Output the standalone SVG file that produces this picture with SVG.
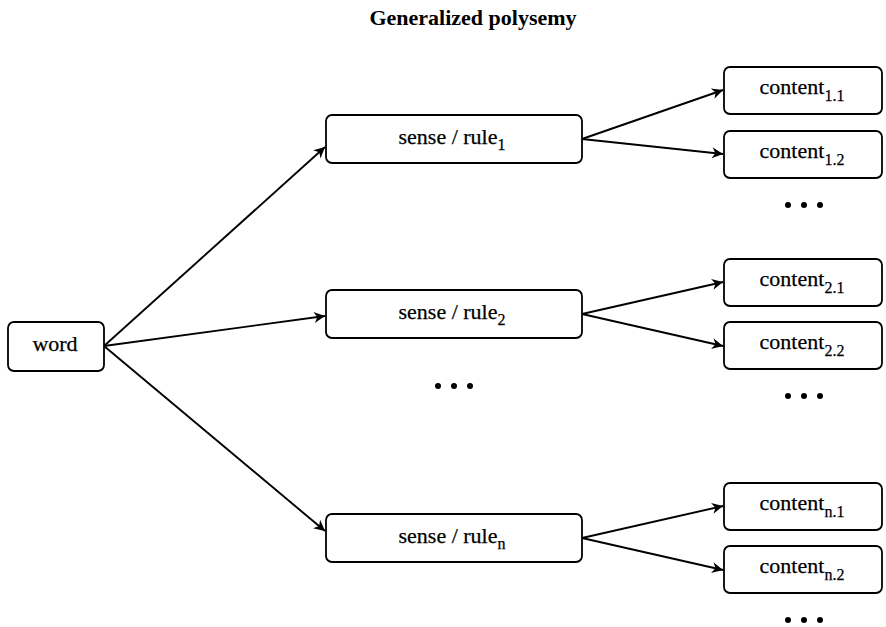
<svg xmlns="http://www.w3.org/2000/svg" width="886" height="627" viewBox="0 0 886 627">
  <style>
    .box { fill: #fff; stroke: #000; stroke-width: 1.8; }
    .lbl { font-family: "Liberation Serif", "Times New Roman", serif; font-size: 22px; fill: #000; stroke: #000; stroke-width: 0.25; text-anchor: middle; }
    .sub { font-size: 16px; }
    .title { font-family: "Liberation Serif", "Times New Roman", serif; font-size: 22px; font-weight: bold; fill: #000; text-anchor: middle; }
    .edge { stroke: #000; stroke-width: 1.9; fill: none; marker-end: url(#arrow); }
    .dot { fill: #000; }
  </style>
  <defs>
    <marker id="arrow" viewBox="0 0 10 10" refX="10" refY="5" markerWidth="13" markerHeight="11" markerUnits="userSpaceOnUse" orient="auto">
      <path d="M0,0 L10,5 L0,10 L3,5 Z" fill="#000"/>
    </marker>
  </defs>

  <rect width="886" height="627" fill="#fff"/>

  <text class="title" x="473" y="25">Generalized polysemy</text>

  <g id="connectors">
    <line class="edge" x1="104" y1="346" x2="325" y2="147"/>
    <line class="edge" x1="104" y1="346" x2="325" y2="316"/>
    <line class="edge" x1="104" y1="346" x2="325" y2="531"/>
    <line class="edge" x1="582" y1="139" x2="723" y2="90"/>
    <line class="edge" x1="582" y1="139" x2="723" y2="154"/>
    <line class="edge" x1="582" y1="314" x2="723" y2="282"/>
    <line class="edge" x1="582" y1="314" x2="723" y2="346"/>
    <line class="edge" x1="582" y1="538" x2="723" y2="506"/>
    <line class="edge" x1="582" y1="538" x2="723" y2="570"/>
  </g>

  <g id="word">
    <rect class="box" x="8" y="322" width="96" height="49" rx="6"/>
    <text class="lbl" x="55" y="351">word</text>
  </g>

  <g id="sense1">
    <rect class="box" x="326" y="115" width="256" height="48" rx="6"/>
    <text class="lbl" x="452" y="144">sense / rule<tspan class="sub" dy="6">1</tspan></text>
  </g>
  <g id="sense2">
    <rect class="box" x="326" y="290" width="256" height="48" rx="6"/>
    <text class="lbl" x="452" y="319">sense / rule<tspan class="sub" dy="6">2</tspan></text>
  </g>
  <g id="sense-n">
    <rect class="box" x="326" y="514" width="256" height="48" rx="6"/>
    <text class="lbl" x="452" y="543">sense / rule<tspan class="sub" dy="6">n</tspan></text>
  </g>

  <g id="content1-1">
    <rect class="box" x="724" y="67" width="158" height="47" rx="6"/>
    <text class="lbl" x="802" y="94">content<tspan class="sub" dy="7">1.1</tspan></text>
  </g>
  <g id="content1-2">
    <rect class="box" x="724" y="131" width="158" height="47" rx="6"/>
    <text class="lbl" x="802" y="158">content<tspan class="sub" dy="7">1.2</tspan></text>
  </g>
  <g id="content2-1">
    <rect class="box" x="724" y="259" width="158" height="47" rx="6"/>
    <text class="lbl" x="802" y="286">content<tspan class="sub" dy="7">2.1</tspan></text>
  </g>
  <g id="content2-2">
    <rect class="box" x="724" y="322" width="158" height="47" rx="6"/>
    <text class="lbl" x="802" y="349">content<tspan class="sub" dy="7">2.2</tspan></text>
  </g>
  <g id="content-n-1">
    <rect class="box" x="724" y="483" width="158" height="47" rx="6"/>
    <text class="lbl" x="802" y="510">content<tspan class="sub" dy="7">n.1</tspan></text>
  </g>
  <g id="content-n-2">
    <rect class="box" x="724" y="546" width="158" height="47" rx="6"/>
    <text class="lbl" x="802" y="573">content<tspan class="sub" dy="7">n.2</tspan></text>
  </g>

  <!-- ellipses marking further items -->
  <g id="ellipses">
    <circle class="dot" cx="788" cy="205" r="3"/>
    <circle class="dot" cx="804" cy="205" r="3"/>
    <circle class="dot" cx="820" cy="205" r="3"/>
    <circle class="dot" cx="788" cy="396" r="3"/>
    <circle class="dot" cx="804" cy="396" r="3"/>
    <circle class="dot" cx="820" cy="396" r="3"/>
    <circle class="dot" cx="788" cy="620" r="3"/>
    <circle class="dot" cx="804" cy="620" r="3"/>
    <circle class="dot" cx="820" cy="620" r="3"/>
    <circle class="dot" cx="438" cy="386" r="3"/>
    <circle class="dot" cx="454" cy="386" r="3"/>
    <circle class="dot" cx="470" cy="386" r="3"/>
  </g>
</svg>
